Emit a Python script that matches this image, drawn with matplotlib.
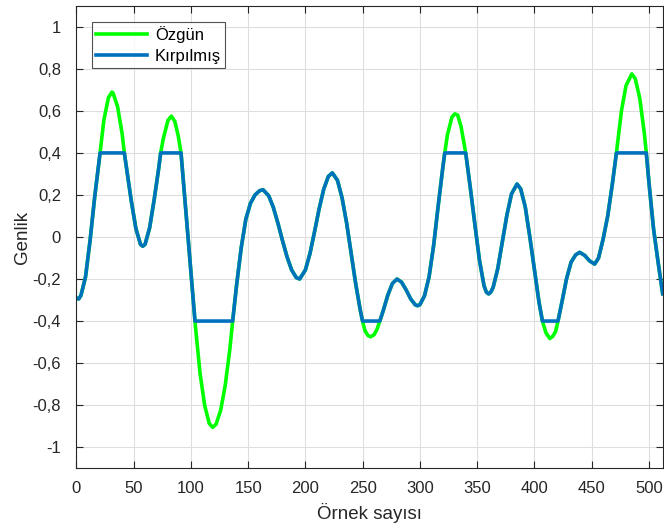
import numpy as np
import matplotlib
matplotlib.use("Agg")
import matplotlib.pyplot as plt

# samples (sample index, amplitude)
sample_x = [0, 2, 4, 8, 12, 16, 20.7, 24, 28, 31, 32, 36, 40, 41.9, 44, 48, 52, 56, 58,
            60, 64, 68, 72, 73.6, 76, 80, 83, 86, 89, 91.4, 94, 97.5, 100, 103.6, 104,
            108, 112, 116, 119, 122, 126, 130, 134, 136.5, 140, 144, 148, 152, 156, 160,
            163, 168, 172, 176, 180, 184, 188, 192, 195, 200, 204, 208, 212, 216, 220,
            223.5, 228, 232, 236, 240, 244, 248, 249.9, 252, 254.5, 257, 260, 262.5, 265,
            268, 272, 276, 280, 284, 288, 292, 296, 298, 300, 304, 308, 312, 316, 320,
            321.7, 324, 328, 330.5, 333, 336, 340, 344, 348, 352, 356, 358, 360, 362, 364,
            368, 372, 376, 380, 384.8, 388, 392, 396, 400, 404, 407, 410, 413.4, 416,
            418.5, 420.6, 424, 428, 432, 436, 439.5, 444, 448, 452.6, 456, 460, 464, 468,
            471.6, 476, 480, 485, 488, 492, 496, 497.7, 500, 504, 508, 512]
original = [-0.29, -0.295, -0.278, -0.19, -0.015, 0.19, 0.40, 0.555, 0.663, 0.689, 0.686,
            0.62, 0.49, 0.40, 0.32, 0.17, 0.04, -0.035, -0.044, -0.035, 0.044, 0.18, 0.33,
            0.40, 0.47, 0.555, 0.575, 0.55, 0.48, 0.40, 0.23, 0.0, -0.165, -0.40, -0.427,
            -0.648, -0.80, -0.887, -0.906, -0.891, -0.825, -0.706, -0.535, -0.40, -0.225,
            -0.05, 0.085, 0.16, 0.20, 0.22, 0.225, 0.196, 0.141, 0.066, -0.017, -0.095,
            -0.157, -0.193, -0.2, -0.157, -0.079, 0.025, 0.134, 0.227, 0.288, 0.305, 0.270,
            0.187, 0.067, -0.08, -0.225, -0.35, -0.40, -0.445, -0.468, -0.475, -0.465,
            -0.44, -0.40, -0.35, -0.276, -0.221, -0.2, -0.215, -0.252, -0.295, -0.323,
            -0.327, -0.322, -0.28, -0.19, -0.04, 0.15, 0.33, 0.40, 0.485, 0.571, 0.586,
            0.58, 0.524, 0.40, 0.235, 0.06, -0.11, -0.232, -0.262, -0.271, -0.262, -0.239,
            -0.150, -0.024, 0.105, 0.205, 0.252, 0.229, 0.143, 0.0, -0.155, -0.31, -0.40,
            -0.455, -0.483, -0.473, -0.45, -0.40, -0.31, -0.20, -0.12, -0.085, -0.073,
            -0.088, -0.113, -0.129, -0.10, -0.01, 0.10, 0.25, 0.40, 0.60, 0.72, 0.776,
            0.754, 0.66, 0.493, 0.40, 0.26, 0.04, -0.12, -0.27]
clip_level = 0.4

x_ticks = list(range(0, 501, 50))
y_ticks = [-1, -0.8, -0.6, -0.4, -0.2, 0, 0.2, 0.4, 0.6, 0.8, 1]

x = np.array(sample_x)
y = np.array(original)
clipped = np.clip(y, -clip_level, clip_level)

plt.rcParams['font.family'] = ['Liberation Sans', 'DejaVu Sans']
ax_color = '#262626'

fig = plt.figure(figsize=(6.64, 5.29), dpi=100)
ax = fig.add_axes([0.115, 0.115, 0.883, 0.874])

ax.plot(x, y, color='#00ff00', lw=2.6, label='Özgün', solid_joinstyle='round')
ax.plot(x, clipped, color='#0072bd', lw=2.6, label='Kırpılmış', solid_joinstyle='round')

ax.set_xlim(0, 512)
ax.set_ylim(-1.1, 1.1)
ax.set_xticks(x_ticks)
ax.set_yticks(y_ticks)
ax.set_yticklabels([('%g' % v).replace('.', ',') for v in y_ticks])
ax.grid(True, color='#dedede', lw=0.8)
ax.set_axisbelow(True)
ax.tick_params(direction='in', length=5, width=0.8, top=True, right=True,
               colors=ax_color, labelsize=12)
ax.tick_params(axis='x', pad=9)
ax.tick_params(axis='y', pad=11)
for s in ax.spines.values():
    s.set_color(ax_color)
    s.set_linewidth(0.8)

ax.set_xlabel('Örnek sayısı', fontsize=13.5, color=ax_color, labelpad=5)
ax.set_ylabel('Genlik', fontsize=13.5, color=ax_color, labelpad=1)

leg = ax.legend(loc='upper left', bbox_to_anchor=(0.026, 0.966), fontsize=12,
                frameon=True, fancybox=False, handlelength=3.1, handletextpad=0.45,
                borderpad=0.25, labelspacing=0.4, borderaxespad=0)
leg.get_frame().set_edgecolor(ax_color)
leg.get_frame().set_linewidth(0.8)

fig.savefig('out.png', dpi=100)
